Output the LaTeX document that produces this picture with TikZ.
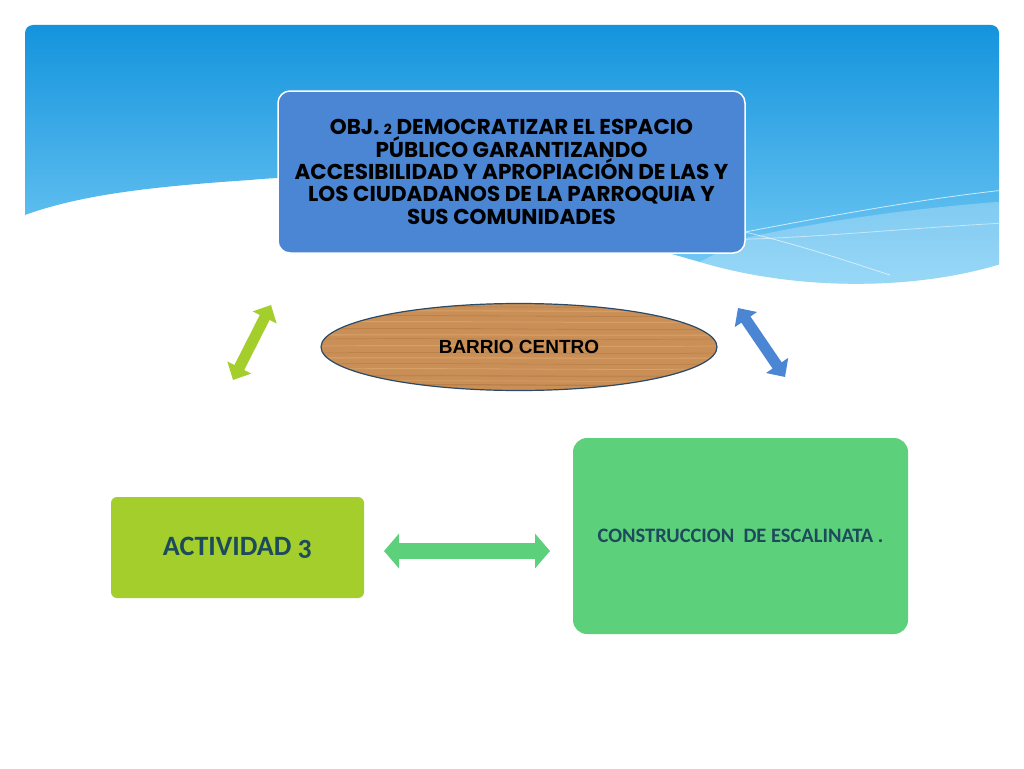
\documentclass[tikz,border=0pt]{standalone}
\usepackage{fontspec}
\setmainfont{Carlito}
\newfontfamily\objfont{Poppins}
\newfontfamily\arialfont{Liberation Sans}
\usetikzlibrary{arrows.meta,shapes.geometric}
\definecolor{skytop}{HTML}{0A8EDB}
\definecolor{skybot}{HTML}{7ACDF5}
\definecolor{objblue}{HTML}{4A86D4}
\definecolor{limegreen}{HTML}{A3CE2C}
\definecolor{mintgreen}{HTML}{5CD07A}
\definecolor{darkteal}{HTML}{1D4B5C}
\definecolor{wood}{HTML}{C98F57}
\definecolor{woodlight}{HTML}{DDAA70}
\definecolor{wooddark}{HTML}{A8703C}
\definecolor{woodline}{HTML}{2B4A66}
\begin{document}
\begin{tikzpicture}[x=1pt,y=-1pt,
  objbox/.style={rounded corners=12pt, fill=objblue, draw=white, line width=1.5pt,
    minimum width=467pt, minimum height=162pt, inner sep=0pt, align=center,
    font=\objfont\bfseries\fontsize{21.5}{22.3}\selectfont},
  actbox/.style={rounded corners=6pt, fill=limegreen, minimum width=253pt,
    minimum height=101pt, inner sep=0pt, text=darkteal,
    font=\bfseries\fontsize{28}{32}\selectfont\addfontfeatures{Numbers=OldStyle}},
  conbox/.style={rounded corners=14pt, fill=mintgreen, minimum width=335pt,
    minimum height=196pt, inner sep=0pt, text=darkteal,
    font=\bfseries\fontsize{20.5}{24}\selectfont},
  woodoval/.style={ellipse, fill=wood, draw=woodline, line width=1.2pt,
    minimum width=396pt, minimum height=87pt, inner sep=0pt,
    font=\arialfont\bfseries\fontsize{19}{22}\selectfont},
  grain/.style={line width=#1},
  dblgreen/.style={line width=11pt, limegreen,
    {Triangle[width=26pt,length=14pt]}-{Triangle[width=26pt,length=14pt]}},
  dblblue/.style={line width=11pt, objblue,
    {Triangle[width=26pt,length=14pt]}-{Triangle[width=26pt,length=14pt]}},
  dblmint/.style={line width=16pt, mintgreen,
    {Triangle[width=34pt,length=15pt]}-{Triangle[width=34pt,length=15pt]}}
]
\useasboundingbox (0,0) rectangle (1024,768);
\fill[white] (0,0) rectangle (1024,768);
% sky banner
\begin{scope}
\clip[rounded corners=8pt] (25,25) rectangle (999,400);
\shade[top color=skytop, bottom color=skybot]
  (0,0) -- (1024,0) -- (1024,256)
  .. controls (930,292) and (800,292) .. (700,262)
  .. controls (550,220) and (400,165) .. (250,180)
  .. controls (130,188) and (60,198) .. (0,225) -- cycle;
\fill[white, opacity=0.25] (745,238) .. controls (850,215) and (950,205) .. (1024,200)
  -- (1024,256) .. controls (930,292) and (800,292) .. (700,262) -- cycle;
\draw[white, opacity=0.7, line width=0.8pt] (745,232) .. controls (850,212) and (940,196) .. (1024,188);
\draw[white, opacity=0.6, line width=0.8pt] (745,232) .. controls (800,245) and (850,262) .. (890,275);
\draw[white, opacity=0.5, line width=0.8pt] (700,240) .. controls (800,240) and (900,228) .. (1024,222);
\end{scope}

% top objective box
\node[objbox] (obj) at (511.5,172) {OBJ. {\fontsize{14}{14}\selectfont 2} DEMOCRATIZAR EL ESPACIO\\
P\'UBLICO GARANTIZANDO\\
ACCESIBILIDAD Y APROPIACI\'ON DE LAS Y\\
LOS CIUDADANOS DE LA PARROQUIA Y\\
SUS COMUNIDADES};

% central wooden oval
\node[woodoval, path picture={
    \foreach \dy/\w/\c/\o in {-38/1.2/wooddark/.5,-34/0.6/woodlight/.6,-29/1.4/wooddark/.35,-22/0.8/woodlight/.7,
      -17/0.6/wooddark/.5,-11/1.6/woodlight/.5,-6/0.5/wooddark/.6,1/0.9/woodlight/.6,8/0.7/wooddark/.4,
      12/1.5/woodlight/.5,18/0.6/wooddark/.6,25/1/woodlight/.6,31/0.8/wooddark/.45,36/1.4/woodlight/.5,40/0.6/wooddark/.5}
      {\draw[\c, grain=\w pt, opacity=\o]
        ([yshift=\dy pt]path picture bounding box.west) .. controls ([yshift=\dy pt+1.5pt, xshift=130pt]path picture bounding box.west)
        and ([yshift=\dy pt-1.5pt, xshift=-130pt]path picture bounding box.east) .. ([yshift=\dy pt]path picture bounding box.east);}
  }] (bc) at (519,347) {BARRIO CENTRO};

% bottom boxes
\node[actbox] (act) at (237.5,547.5) {ACTIVIDAD 3};
\node[conbox] (con) at (740.5,536) {CONSTRUCCION\ \ DE ESCALINATA .};

% connectors
\coordinate (gA) at (271,305);
\coordinate (gB) at (233,380);
\coordinate (bA) at (738,308);
\coordinate (bB) at (785,377);
\coordinate (hA) at (384,551);
\coordinate (hB) at (550,551);
\draw[dblgreen] (gA) -- (gB);
\draw[dblblue] (bA) -- (bB);
\draw[dblmint] (hA) -- (hB);
\end{tikzpicture}
\end{document}
